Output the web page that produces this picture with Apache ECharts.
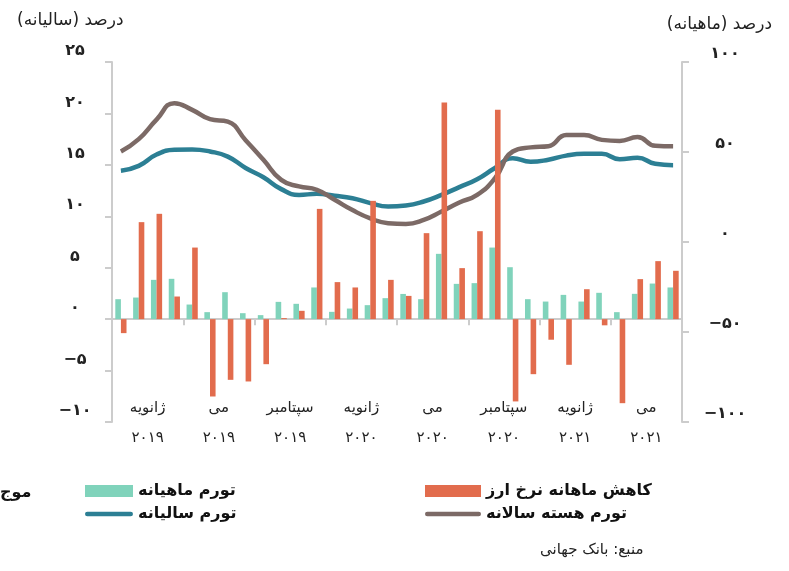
<!DOCTYPE html>
<html>
<head>
<meta charset="utf-8">
<script src="https://cdn.jsdelivr.net/npm/echarts@6/dist/echarts.min.js"></script>
<style>
html,body{margin:0;padding:0;background:#fff;}
#chart{width:789px;height:571px;}
</style>
</head>
<body>
<div id="chart"></div>
<script>
// ---- data ----
var months = ['2019-01','2019-02','2019-03','2019-04','2019-05','2019-06','2019-07','2019-08',
  '2019-09','2019-10','2019-11','2019-12','2020-01','2020-02','2020-03','2020-04',
  '2020-05','2020-06','2020-07','2020-08','2020-09','2020-10','2020-11','2020-12',
  '2021-01','2021-02','2021-03','2021-04','2021-05','2021-06','2021-07','2021-08'];
var groupLabels = ['ژانویه\n۲۰۱۹','می\n۲۰۱۹','سپتامبر\n۲۰۱۹','ژانویه\n۲۰۲۰','می\n۲۰۲۰','سپتامبر\n۲۰۲۰','ژانویه\n۲۰۲۱','می\n۲۰۲۱'];
var monthlyInflation = [1.94,2.1,3.82,3.92,1.42,0.68,2.62,0.58,0.39,1.68,1.49,3.08,0.71,1.03,1.36,2.04,
  2.45,1.94,6.35,3.43,3.5,6.96,5.05,1.94,1.71,2.36,1.71,2.56,0.68,2.46,3.46,3.08];
var fxDrop = [-1.36,9.43,10.24,2.2,6.96,-7.52,-5.9,-6.06,-4.38,0.1,0.81,10.72,3.6,3.08,11.5,3.82,
  2.26,8.36,21.06,4.96,8.55,20.35,-8.0,-5.35,-2.0,-4.44,2.91,-0.6,-8.17,3.89,5.64,4.7];
var annualInflation = [14.42,14.9,16.0,16.46,16.5,16.3,15.8,14.7,13.8,12.64,12.08,12.18,12.0,11.76,11.28,10.95,
  11.05,11.44,12.08,12.83,13.6,14.7,15.65,15.3,15.5,15.9,16.07,16.07,15.55,15.7,15.1,14.97];
var coreInflation = [16.3,17.5,19.4,21.0,20.35,19.44,19.2,17.4,15.5,13.54,12.9,12.57,11.6,10.6,9.8,9.33,
  9.26,9.65,10.46,11.34,12.08,13.7,16.3,16.7,16.8,17.9,17.9,17.43,17.33,17.7,16.85,16.8];
var leftTicks = {min:-10, max:25, interval:5};
var rightTicks = {min:-100, max:100, interval:50};
var names = {
  monthly:'تورم ماهیانه',
  annual:'تورم سالیانه',
  fx:'کاهش ماهانه نرخ ارز',
  core:'تورم هسته سالانه'
};

var FONT = 'DejaVu Sans';
var RLM = '\u200F';
function fa(v){
  var d = '۰۱۲۳۴۵۶۷۸۹';
  var s = String(Math.abs(v)).replace(/[0-9]/g, function(c){return d[+c];});
  return (v < 0 ? '−' : '') + s;
}
var axisGray = '#cccccc';

var chart = echarts.init(document.getElementById('chart'), null, {renderer:'canvas'});
chart.setOption({
  animation:false,
  backgroundColor:'#ffffff',
  textStyle:{fontFamily:FONT},
  title:[
    {text:'درصد (سالیانه)' + RLM, left:12, top:7,
     textStyle:{fontFamily:FONT, fontSize:17, fontWeight:'normal', color:'#222'}},
    {text:'درصد (ماهیانه)' + RLM, right:12, top:11,
     textStyle:{fontFamily:FONT, fontSize:17, fontWeight:'normal', color:'#222'}}
  ],
  grid:{left:112, right:107, top:62, bottom:149, containLabel:false},
  legend:[
    {orient:'vertical', left:80, top:478, itemWidth:48, itemHeight:12, itemGap:7,
     textStyle:{fontFamily:FONT, fontSize:16, fontWeight:'bold', color:'#111'},
     data:[{name:names.monthly, icon:'rect'},
           {name:names.annual, icon:'path://M2,0H48A2,2 0 0 1 48,5H2A2,2 0 0 1 2,0Z'}]},
    {orient:'vertical', left:420, top:478, itemWidth:56, itemHeight:12, itemGap:7,
     textStyle:{fontFamily:FONT, fontSize:16, fontWeight:'bold', color:'#111'},
     data:[{name:names.fx, icon:'rect'},
           {name:names.core, icon:'path://M2,0H58A2,2 0 0 1 58,5H2A2,2 0 0 1 2,0Z'}]}
  ],
  graphic:[
    {type:'text', left:0, top:485, style:{text:'موج', font:'bold 16px "DejaVu Sans"', fill:'#111'}},
    {type:'text', left:540, top:543, style:{text:'منبع: بانک جهانی' + RLM, font:'15px "DejaVu Sans"', fill:'#222'}}
  ],
  xAxis:[
    {type:'category', data:months, boundaryGap:true,
     axisLine:{show:true, onZero:true, lineStyle:{color:axisGray, width:2}},
     axisTick:{show:true, interval:3, length:6, alignWithLabel:false, lineStyle:{color:axisGray, width:2}},
     axisLabel:{show:false}, splitLine:{show:false}},
    {type:'category', data:groupLabels, position:'bottom', boundaryGap:true,
     axisLine:{show:false, onZero:false}, axisTick:{show:false}, splitLine:{show:false},
     axisLabel:{show:true, interval:0, margin:-29, lineHeight:30, fontFamily:FONT, fontSize:15, color:'#222'}}
  ],
  yAxis:[
    {type:'value', position:'left', min:leftTicks.min, max:leftTicks.max, interval:leftTicks.interval,
     axisLine:{show:true, lineStyle:{color:axisGray, width:2}},
     axisTick:{show:true, length:7, lineStyle:{color:axisGray, width:2}},
     splitLine:{show:false},
     axisLabel:{margin:37, align:'center', verticalAlign:'bottom', lineHeight:22, fontFamily:FONT, fontSize:16, fontWeight:'bold', color:'#222',
       formatter:function(v){return fa(v);}}},
    {type:'value', position:'right', min:rightTicks.min, max:rightTicks.max, interval:rightTicks.interval,
     axisLine:{show:true, lineStyle:{color:axisGray, width:2}},
     axisTick:{show:true, length:7, lineStyle:{color:axisGray, width:2}},
     splitLine:{show:false},
     axisLabel:{margin:43, align:'center', verticalAlign:'bottom', lineHeight:16, fontFamily:FONT, fontSize:16, fontWeight:'bold', color:'#222',
       formatter:function(v){return fa(v);}}}
  ],
  series:[
    {name:names.annual, type:'line', xAxisIndex:0, yAxisIndex:0, data:annualInflation, smooth:0.5,
     showSymbol:false, symbol:'none', color:'#2c7f94', lineStyle:{color:'#2c7f94', width:4.5}, z:2},
    {name:names.core, type:'line', xAxisIndex:0, yAxisIndex:0, data:coreInflation, smooth:0.5,
     showSymbol:false, symbol:'none', color:'#7c6a66', lineStyle:{color:'#7c6a66', width:4.5}, z:2},
    {name:names.monthly, type:'bar', xAxisIndex:0, yAxisIndex:0, data:monthlyInflation,
     barWidth:5.6, barGap:'0%', itemStyle:{color:'#80d3bb'}, z:3},
    {name:names.fx, type:'bar', xAxisIndex:0, yAxisIndex:0, data:fxDrop,
     barWidth:5.6, barGap:'0%', itemStyle:{color:'#e26c4d'}, z:3}
  ]
});
</script>
</body>
</html>
